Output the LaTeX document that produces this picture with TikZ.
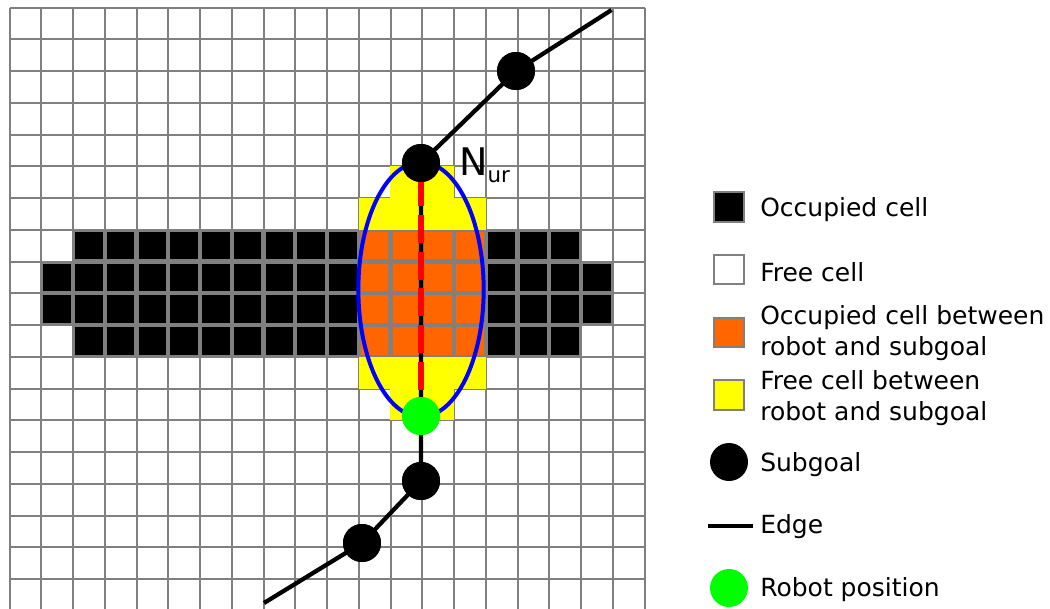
\documentclass[tikz,border=0pt]{standalone}
\usepackage{fontspec}
\setmainfont{DejaVu Sans}
\usetikzlibrary{shapes.geometric}
\definecolor{gridgray}{RGB}{128,128,128}
\definecolor{occorange}{RGB}{255,102,0}
\definecolor{freeyellow}{RGB}{255,255,0}
\definecolor{robotgreen}{RGB}{0,255,0}
\newcommand{\gcell}[3]{\path[#3] ({9.5+31.75*#2+1.2},{7.5+31.75*#1+1.2}) rectangle ++(29.35,29.35);}
\newcommand{\ycell}[2]{\path[fill=freeyellow] ({9.5+31.75*#2-0.2},{7.5+31.75*#1-0.2}) rectangle ++(32.15,32.15);}
\begin{document}
\begin{tikzpicture}[x=0.75pt,y=-0.75pt,
  gridline/.style={draw=gridgray,line width=1.5pt},
  occcell/.style={fill=black,draw=gridgray,line width=1.4pt},
  betweencell/.style={fill=occorange,draw=gridgray,line width=1.4pt},
  legbox/.style={draw=gridgray,line width=1.4pt,minimum size=22pt,inner sep=0pt},
  subgoal/.style={circle,fill=black,minimum size=28.5pt,inner sep=0pt},
  robot/.style={circle,fill=robotgreen,minimum size=28.5pt,inner sep=0pt},
  edgeline/.style={draw=black,line width=3.2pt},
  legtext/.style={anchor=base west,inner sep=0pt,font=\fontsize{18.75}{22.5}\selectfont}
]
\useasboundingbox (0,0) rectangle (1050,608);
\clip (0,0) rectangle (1050,608);
\fill[white] (0,0) rectangle (1050,608);
% grid
\foreach \c in {0,...,20} {
  \draw[gridline] ({9.5+31.75*\c},7.5) -- ({9.5+31.75*\c},620);
}
\foreach \r in {0,...,19} {
  \draw[gridline] (9.5,{7.5+31.75*\r}) -- (644.5,{7.5+31.75*\r});
}
% yellow cells
\foreach \c in {12,13} { \ycell{5}{\c} \ycell{12}{\c} }
\foreach \c in {11,...,14} { \ycell{6}{\c} \ycell{11}{\c} }
% occupied cells
\foreach \c in {2,...,10,15,16,17} { \gcell{7}{\c}{occcell} \gcell{10}{\c}{occcell} }
\foreach \c in {1,...,10,15,16,17,18} { \gcell{8}{\c}{occcell} \gcell{9}{\c}{occcell} }
% orange cells
\foreach \r in {7,...,10} { \foreach \c in {11,...,14} { \gcell{\r}{\c}{betweencell} } }
% ellipse
\node[ellipse,draw=blue,line width=3pt,minimum width=94pt,minimum height=191pt,inner sep=0pt] (ell) at (421,289.5) {};
% nodes
\coordinate (e0) at (611.5,10);
\coordinate (e5) at (264,603);
\node[subgoal] (sg1) at (516,71) {};
\node[subgoal] (sg2) at (421,163) {};
\node[robot] (rob) at (421,416) {};
\node[subgoal] (sg3) at (421,481) {};
\node[subgoal] (sg4) at (362,543) {};
\draw[edgeline] (e0) -- (sg1.center) -- (sg2.center) -- (rob.center) -- (sg3.center) -- (sg4.center) -- (e5);
\draw[draw=red,line width=3.8pt,dash pattern=on 21pt off 6.5pt,dash phase=3pt] (sg2.south) -- (rob.north);
\node[subgoal] at (sg1) {};
\node[subgoal] at (sg2) {};
\node[robot] at (rob) {};
\node[subgoal] at (sg3) {};
\node[subgoal] at (sg4) {};
\node[anchor=base west,inner sep=0pt] (nur) at (459,175) {\fontsize{28.5}{30}\selectfont N\raisebox{-5.3pt}{\fontsize{16}{18}\selectfont ur}};
% legend
\node[legbox,fill=black] (lg1) at (729,207) {};
\node[legtext] (lt1) at (760,216.7) {Occupied cell};
\node[legbox,fill=white] (lg2) at (729,269.5) {};
\node[legtext] (lt2) at (760,281) {Free cell};
\node[legbox,fill=occorange] (lg3) at (729,332.5) {};
\node[legtext] (lt3a) at (760,324.5) {Occupied cell between};
\node[legtext] (lt3b) at (760,355) {robot and subgoal};
\node[legbox,fill=freeyellow] (lg4) at (729,395) {};
\node[legtext] (lt4a) at (760,389.5) {Free cell between};
\node[legtext] (lt4b) at (760,420) {robot and subgoal};
\node[subgoal] (lg5) at (729,462) {};
\node[legtext] (lt5) at (760,471.7) {Subgoal};
\coordinate (lg6a) at (708,526);
\coordinate (lg6b) at (753,526);
\draw[edgeline] (lg6a) -- (lg6b);
\node[legtext] (lt6) at (760,533) {Edge};
\node[robot] (lg7) at (729,588) {};
\node[legtext] (lt7) at (760,596.7) {Robot position};
\end{tikzpicture}
\end{document}
